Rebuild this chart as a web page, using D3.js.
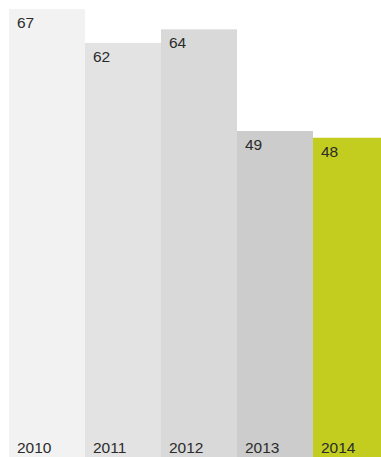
<!DOCTYPE html>
<html>
<head>
<meta charset="utf-8">
<script src="https://cdn.jsdelivr.net/npm/d3@7"></script>
<style>
  html, body { margin: 0; padding: 0; background: #fff; overflow: hidden; }
  svg { display: block; }
  text { font-family: "Liberation Sans", Arial, Helvetica, sans-serif; fill: #2b2b2b; }
</style>
</head>
<body>
<svg id="chart" width="381" height="457"></svg>
<script>
const years = ["2010", "2011", "2012", "2013", "2014"];
const values = [67, 62, 64, 49, 48];
const colors = ["#f2f2f2", "#e3e3e3", "#d9d9d9", "#cccccc", "#c2cd20"];

const svg = d3.select("#chart");

const x = d3.scaleBand()
  .domain(years)
  .range([9, 389])
  .padding(0);

const y = d3.scaleLinear()
  .domain([0, 67])
  .range([463, 9]);

const bars = svg.selectAll("g.bar")
  .data(years.map((yr, i) => ({ year: yr, value: values[i], color: colors[i] })))
  .join("g")
  .attr("class", "bar");

bars.append("rect")
  .attr("x", d => x(d.year))
  .attr("y", d => y(d.value))
  .attr("width", x.bandwidth())
  .attr("height", d => y(0) - y(d.value))
  .attr("fill", d => d.color);

// value label just inside the top of each bar
bars.append("text")
  .attr("x", d => x(d.year) + 8)
  .attr("y", d => y(d.value) + 19)
  .attr("font-size", 15.5)
  .text(d => d.value);

// year label along the bottom
bars.append("text")
  .attr("x", d => x(d.year) + 8)
  .attr("y", 453)
  .attr("font-size", 15.5)
  .text(d => d.year);
</script>
</body>
</html>
